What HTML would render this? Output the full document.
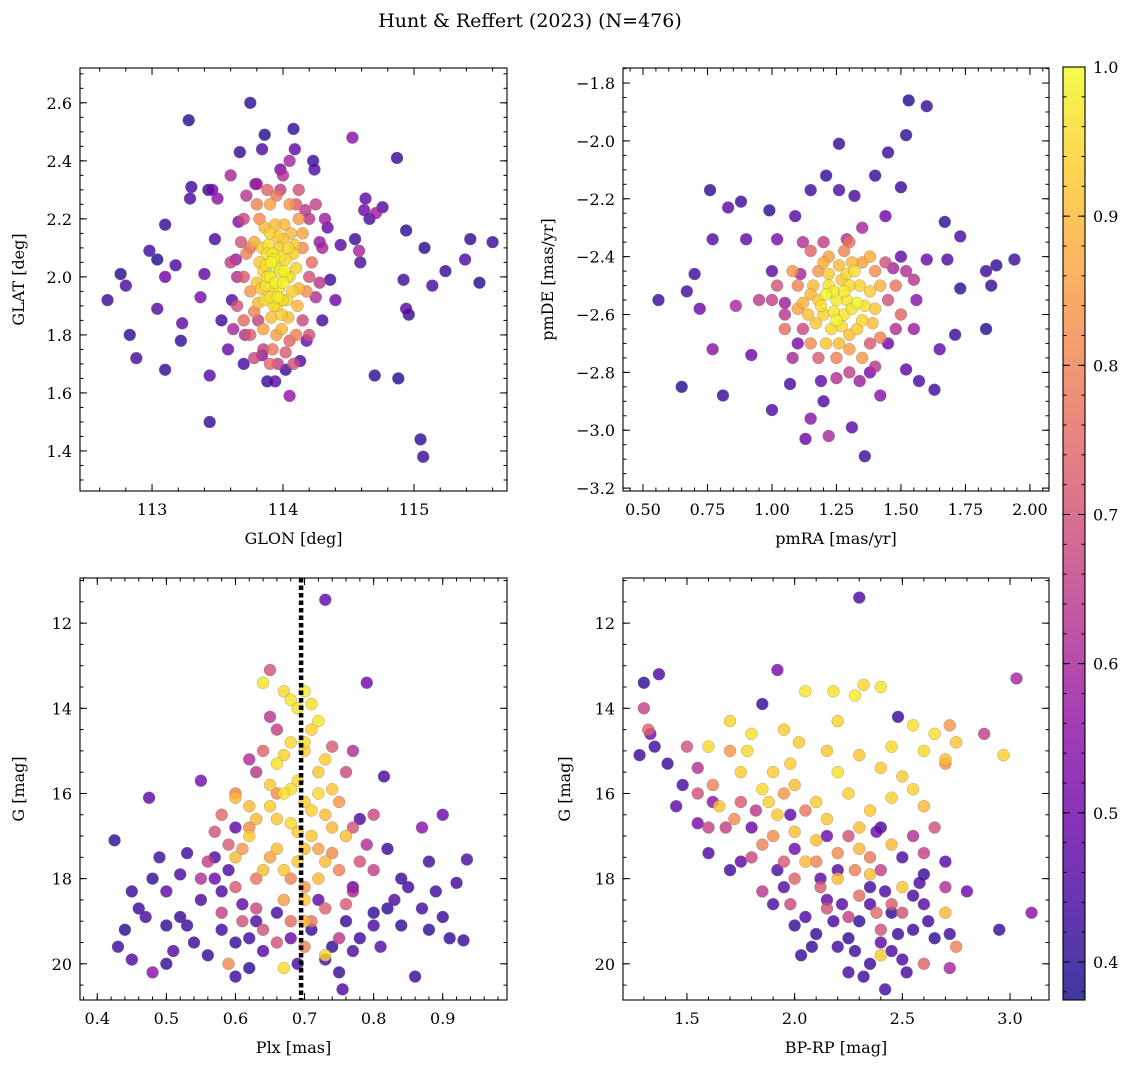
<!DOCTYPE html>
<html><head><meta charset="utf-8">
<style>
html,body{margin:0;padding:0;background:#fff;}
svg{display:block;font-family:"DejaVu Serif","Liberation Serif",serif;}
</style></head>
<body>
<svg id="fig" width="1136" height="1067" viewBox="0 0 1136 1067">
<text x="530" y="27" text-anchor="middle" font-size="19">Hunt &amp; Reffert (2023) (N=476)</text>
</svg>
<script>
// ---------- data (x, y, membership probability) ----------
const glonGlat = [
[112.66,1.92,0.42],[112.76,2.01,0.4],[112.8,1.97,0.45],[112.83,1.8,0.41],[112.88,1.72,0.44],[112.98,2.09,0.43],[113.04,2.06,0.4],[113.04,1.89,0.46],[113.1,2.18,0.41],[113.1,2.0,0.5],[113.1,1.68,0.42],[113.18,2.04,0.44],[113.22,1.78,0.41],[113.23,1.84,0.47],[113.28,2.54,0.4],[113.3,2.31,0.43],[113.29,2.27,0.45],[113.37,1.93,0.52],[113.4,2.01,0.48],[113.43,2.3,0.41],[113.44,1.66,0.46],[113.44,1.5,0.42],[113.46,2.3,0.5],[113.48,2.13,0.44],[113.5,2.27,0.55],[113.53,1.85,0.43],[113.58,1.75,0.49],[113.6,2.35,0.6],[113.61,1.92,0.45],[113.64,2.06,0.58],[113.66,2.19,0.53],[113.67,2.43,0.42],[113.71,1.8,0.62],[113.7,1.7,0.44],[113.75,2.6,0.41],[113.79,2.32,0.5],[113.81,1.85,0.66],[113.84,2.44,0.45],[113.86,2.49,0.4],[113.84,1.73,0.55],[113.88,1.64,0.42],[113.94,1.64,0.47],[113.98,2.37,0.52],[114.02,1.68,0.43],[114.05,1.59,0.56],[114.08,2.51,0.41],[114.09,2.44,0.48],[114.13,1.71,0.45],[114.17,2.23,0.64],[114.18,1.78,0.5],[114.23,2.4,0.42],[114.24,2.37,0.46],[114.28,2.12,0.57],[114.3,1.85,0.44],[114.34,2.17,0.49],[114.36,1.99,0.43],[114.4,1.92,0.5],[114.44,2.11,0.46],[114.53,2.48,0.55],[114.55,2.13,0.42],[114.58,2.09,0.6],[114.59,2.05,0.45],[114.62,2.23,0.5],[114.63,2.27,0.48],[114.66,2.2,0.44],[114.7,1.66,0.41],[114.71,2.22,0.58],[114.76,2.24,0.46],[114.87,2.41,0.42],[114.88,1.65,0.4],[114.92,1.99,0.43],[114.94,2.16,0.41],[114.94,1.89,0.47],[114.96,1.87,0.42],[115.05,1.44,0.41],[115.07,1.38,0.43],[115.08,2.1,0.4],[115.14,1.97,0.44],[115.24,2.02,0.42],[115.43,2.13,0.41],[115.39,2.06,0.45],[115.6,2.12,0.42],[115.5,1.98,0.4],
[113.75,2.1,0.78],[113.7,2.0,0.72],[114.15,2.1,0.82],[114.2,2.0,0.7],[113.78,1.88,0.8],[114.15,1.85,0.68],[113.95,1.8,0.85],[114.05,1.78,0.74],[113.85,1.75,0.66],[114.1,2.25,0.72],[113.9,2.25,0.86],[114.2,2.2,0.64],[113.7,2.2,0.68],[113.65,1.9,0.7],[114.25,1.93,0.62],[113.98,2.3,0.66],[114.08,1.7,0.7],[113.9,1.7,0.75],[113.75,1.8,0.72],[114.3,2.1,0.6],[113.6,2.05,0.66],[114.0,2.35,0.62],[113.8,2.32,0.6],[114.12,2.2,0.84],[113.82,2.2,0.82],
[113.9,2.0,0.98],[113.95,2.03,0.97],[114.0,1.98,0.99],[113.92,1.95,0.96],[114.02,2.06,0.95],[113.88,2.08,0.97],[113.97,2.1,0.93],[114.05,2.0,0.96],[113.85,2.02,0.94],[113.93,1.9,0.95],[114.0,2.13,0.92],[113.9,2.15,0.94],[114.08,2.08,0.93],[113.96,1.93,0.98],[114.03,1.92,0.95],[113.87,1.97,0.97],[113.82,2.05,0.92],[114.1,2.03,0.94],[113.94,2.18,0.91],[113.99,1.87,0.93],[113.91,2.05,0.99],[114.06,2.15,0.9],[113.8,1.98,0.92],[114.12,1.96,0.9],[113.98,2.02,0.99],[113.86,1.92,0.95],[114.04,1.86,0.91]
];
const glonGlatExtra = [
[113.93,2.06,0.98],[113.97,1.96,0.97],[113.89,2.11,0.96],[114.01,2.02,0.99],[113.94,1.98,0.98],[113.87,2.04,0.96],[114.04,2.1,0.95],[113.92,2.08,0.97],[113.98,2.07,0.96],[113.95,1.9,0.94],[113.84,2.1,0.93],[114.07,1.95,0.94],[113.9,1.93,0.96],[114.0,1.92,0.95],[113.88,2.0,0.97],[114.03,2.0,0.98],[113.96,2.14,0.93],[113.83,1.96,0.92],[114.09,2.11,0.92],[113.91,1.86,0.91],[114.01,2.18,0.9],[113.86,2.17,0.9],[113.99,1.82,0.89],[113.81,1.91,0.9],[114.11,1.9,0.89],[113.78,2.12,0.88],
[113.75,1.95,0.84],[113.72,2.08,0.8],[114.15,2.15,0.86],[114.18,1.95,0.82],[113.8,2.25,0.8],[114.05,2.25,0.84],[113.95,2.28,0.78],[114.1,1.8,0.8],[113.85,1.82,0.86],[113.7,1.85,0.75],[114.22,2.05,0.76],[113.68,2.12,0.7],[114.25,2.25,0.66],[113.92,1.75,0.78],[114.02,1.74,0.72],[113.78,1.72,0.68],[114.2,1.8,0.7],[113.65,2.0,0.62],[114.12,2.3,0.7],[113.88,2.3,0.74],[113.72,2.28,0.64],[114.28,1.98,0.64],[113.96,1.7,0.66],[114.05,2.4,0.6],[113.62,1.82,0.6],[114.32,2.2,0.58]
];
const pmraPmde = [
[0.56,-2.55,0.42],[0.65,-2.85,0.4],[0.67,-2.52,0.44],[0.7,-2.46,0.43],[0.72,-2.58,0.5],[0.76,-2.17,0.41],[0.77,-2.34,0.46],[0.77,-2.72,0.55],[0.81,-2.88,0.42],[0.83,-2.23,0.47],[0.86,-2.57,0.6],[0.88,-2.21,0.43],[0.9,-2.34,0.48],[0.92,-2.74,0.5],[0.95,-2.55,0.65],[0.99,-2.24,0.41],[1.0,-2.93,0.45],[1.02,-2.34,0.52],[1.05,-2.56,0.58],[1.07,-2.84,0.44],[1.09,-2.26,0.46],[1.11,-2.46,0.6],[1.13,-3.03,0.5],[1.15,-2.96,0.55],[1.15,-2.17,0.43],[1.19,-2.83,0.48],[1.21,-2.12,0.41],[1.22,-3.02,0.6],[1.26,-2.17,0.45],[1.26,-2.01,0.42],[1.29,-2.34,0.62],[1.31,-2.99,0.47],[1.32,-2.19,0.44],[1.34,-2.83,0.58],[1.36,-3.09,0.43],[1.38,-2.8,0.52],[1.4,-2.12,0.41],[1.42,-2.88,0.55],[1.44,-2.26,0.5],[1.45,-2.04,0.43],[1.47,-2.44,0.6],[1.5,-2.16,0.42],[1.52,-2.79,0.47],[1.52,-1.98,0.41],[1.53,-1.86,0.4],[1.56,-2.55,0.55],[1.57,-2.83,0.44],[1.6,-1.88,0.42],[1.6,-2.41,0.5],[1.63,-2.86,0.43],[1.65,-2.72,0.48],[1.67,-2.28,0.41],[1.68,-2.41,0.45],[1.71,-2.67,0.42],[1.73,-2.33,0.44],[1.73,-2.51,0.41],[1.83,-2.45,0.43],[1.83,-2.65,0.4],[1.85,-2.5,0.42],[1.87,-2.43,0.41],[1.94,-2.41,0.43],[1.2,-2.9,0.46],[1.1,-2.7,0.52],[1.45,-2.7,0.5],[1.0,-2.45,0.47],[1.5,-2.4,0.48],
[1.1,-2.5,0.8],[1.15,-2.38,0.74],[1.4,-2.45,0.82],[1.45,-2.55,0.7],[1.12,-2.65,0.68],[1.38,-2.7,0.72],[1.25,-2.75,0.8],[1.2,-2.35,0.66],[1.3,-2.35,0.78],[1.05,-2.6,0.64],[1.48,-2.65,0.62],[1.35,-2.42,0.86],[1.18,-2.45,0.84],[1.3,-2.8,0.66],[1.02,-2.5,0.7],[1.55,-2.48,0.64],
[1.25,-2.55,0.98],[1.22,-2.5,0.96],[1.28,-2.6,0.97],[1.3,-2.5,0.95],[1.2,-2.6,0.94],[1.33,-2.56,0.99],[1.18,-2.55,0.93],[1.27,-2.48,0.92],[1.35,-2.62,0.94],[1.23,-2.65,0.95],[1.3,-2.67,0.91],[1.16,-2.5,0.9],[1.38,-2.52,0.93],[1.26,-2.43,0.9],[1.21,-2.7,0.92],[1.32,-2.45,0.96],[1.14,-2.6,0.91],[1.4,-2.58,0.92],[1.25,-2.62,0.99],[1.29,-2.55,0.97]
];
const pmraPmdeExtra = [
[1.24,-2.52,0.98],[1.31,-2.58,0.97],[1.19,-2.57,0.96],[1.27,-2.64,0.95],[1.34,-2.5,0.94],[1.22,-2.46,0.93],[1.36,-2.57,0.96],[1.17,-2.63,0.92],[1.29,-2.46,0.95],[1.26,-2.7,0.91],[1.33,-2.65,0.93],[1.21,-2.53,0.99],[1.15,-2.53,0.9],[1.39,-2.63,0.9],[1.28,-2.52,0.98],[1.24,-2.59,0.97],[1.31,-2.42,0.9],[1.12,-2.56,0.89],[1.42,-2.5,0.89],[1.2,-2.42,0.88],
[1.08,-2.45,0.84],[1.15,-2.7,0.82],[1.42,-2.68,0.8],[1.48,-2.5,0.78],[1.35,-2.75,0.84],[1.22,-2.4,0.86],[1.38,-2.4,0.88],[1.05,-2.65,0.76],[1.5,-2.6,0.74],[1.18,-2.75,0.72],[1.3,-2.72,0.85],[1.1,-2.58,0.86],[1.44,-2.42,0.7],[1.28,-2.38,0.8],[1.0,-2.55,0.66],[1.52,-2.45,0.62],[1.12,-2.35,0.62],[1.4,-2.78,0.64],[1.25,-2.82,0.62],[1.08,-2.75,0.6],[1.55,-2.65,0.58],[1.35,-2.3,0.6]
];
const plxG = [
[0.425,17.1,0.41],[0.43,19.6,0.43],[0.44,19.2,0.4],[0.45,19.9,0.45],[0.46,18.7,0.42],[0.47,18.9,0.44],[0.48,18.0,0.41],[0.475,16.1,0.47],[0.49,17.5,0.43],[0.5,19.1,0.41],[0.5,18.3,0.48],[0.48,20.2,0.55],[0.52,18.9,0.42],[0.51,19.7,0.46],[0.53,17.4,0.43],[0.55,15.7,0.52],[0.55,18.5,0.44],[0.56,19.8,0.41],[0.57,18.0,0.5],[0.58,19.2,0.43],[0.59,17.8,0.45],[0.6,19.5,0.42],[0.61,18.6,0.48],[0.62,20.1,0.41],[0.63,19.0,0.44],[0.64,19.7,0.46],[0.66,18.8,0.43],[0.68,19.4,0.5],[0.71,19.2,0.42],[0.72,18.5,0.47],[0.73,19.9,0.44],[0.74,19.6,0.41],[0.755,20.6,0.45],[0.76,19.0,0.42],[0.77,18.2,0.48],[0.78,19.4,0.43],[0.79,13.4,0.5],[0.8,18.8,0.41],[0.81,19.6,0.46],[0.815,15.6,0.44],[0.82,17.3,0.42],[0.83,18.5,0.45],[0.84,19.1,0.41],[0.85,18.2,0.43],[0.86,20.3,0.42],[0.87,18.7,0.44],[0.87,16.8,0.55],[0.88,19.2,0.41],[0.89,18.3,0.43],[0.9,18.9,0.42],[0.9,16.5,0.5],[0.91,19.4,0.41],[0.93,19.45,0.42],[0.935,17.55,0.44],[0.92,18.1,0.43],[0.73,11.45,0.48],[0.57,17.5,0.45],[0.53,19.1,0.43],[0.6,16.8,0.47],[0.78,16.6,0.45],
[0.65,13.1,0.7],[0.66,14.5,0.66],[0.64,15.0,0.74],[0.63,15.5,0.64],[0.74,14.9,0.72],[0.76,15.5,0.68],[0.6,16.0,0.8],[0.58,16.5,0.75],[0.61,17.3,0.84],[0.77,16.8,0.7],[0.79,17.2,0.62],[0.75,17.8,0.8],[0.56,17.6,0.66],[0.6,18.2,0.72],[0.67,18.5,0.85],[0.73,18.7,0.74],[0.77,18.3,0.6],[0.64,19.2,0.7],[0.7,19.6,0.8],[0.59,20.0,0.82],[0.8,17.8,0.66],[0.57,16.9,0.7],[0.72,17.3,0.86],[0.66,16.0,0.82],[0.68,19.0,0.76],[0.63,18.7,0.68],
[0.64,13.4,0.97],[0.67,13.6,0.95],[0.7,13.6,0.98],[0.69,14.0,0.96],[0.71,14.5,0.94],[0.72,14.3,0.97],[0.68,14.8,0.95],[0.7,15.0,0.93],[0.66,15.3,0.96],[0.72,15.5,0.92],[0.69,15.7,0.95],[0.7,16.2,0.94],[0.67,16.0,0.97],[0.73,16.5,0.91],[0.65,16.3,0.93],[0.68,16.7,0.95],[0.71,17.0,0.92],[0.63,16.6,0.9],[0.74,15.9,0.92],[0.66,17.3,0.91],[0.69,17.6,0.93],[0.72,18.0,0.9],[0.6,16.1,0.9],[0.64,17.8,0.91],[0.7,18.5,0.92],[0.67,20.1,0.96],[0.73,19.8,0.95],[0.6,17.5,0.9],[0.76,17.0,0.91],[0.62,17.0,0.93]
];
const plxGExtra = [
[0.68,13.8,0.97],[0.71,13.9,0.96],[0.7,14.8,0.95],[0.67,15.1,0.94],[0.73,15.2,0.93],[0.68,15.9,0.96],[0.71,16.4,0.94],[0.69,16.9,0.93],[0.66,16.6,0.92],[0.74,16.8,0.9],[0.7,17.3,0.91],[0.67,17.8,0.92],[0.73,17.6,0.9],[0.65,15.8,0.93],[0.72,16.0,0.95],[0.7,19.0,0.9],[0.62,16.3,0.9],
[0.62,16.8,0.82],[0.75,16.2,0.84],[0.65,17.5,0.86],[0.74,17.4,0.82],[0.68,18.0,0.8],[0.7,18.2,0.84],[0.63,18.0,0.78],[0.76,18.6,0.72],[0.61,19.0,0.7],[0.71,19.0,0.78],[0.58,18.8,0.66],[0.8,16.5,0.68],[0.55,18.0,0.62],[0.65,14.2,0.64],[0.77,15.0,0.62],[0.62,15.2,0.62],[0.75,19.4,0.64],[0.66,19.5,0.7],[0.59,17.2,0.72],[0.78,17.6,0.7],
[0.45,18.3,0.42],[0.52,17.9,0.44],[0.54,19.5,0.42],[0.58,18.3,0.45],[0.62,19.4,0.43],[0.69,20.0,0.44],[0.75,20.2,0.42],[0.8,19.1,0.44],[0.84,18.0,0.42],[0.88,17.6,0.43],[0.82,18.7,0.41],[0.77,19.7,0.45],[0.6,20.3,0.43],[0.5,20.0,0.42]
];
const colorG = [
[1.28,15.1,0.42],[1.3,13.4,0.41],[1.37,13.2,0.45],[1.35,14.9,0.43],[1.33,14.6,0.5],[1.41,15.3,0.42],[1.45,16.3,0.47],[1.48,15.8,0.44],[1.55,16.7,0.52],[1.6,17.4,0.45],[1.62,16.2,0.55],[1.7,17.8,0.43],[1.75,17.6,0.48],[1.8,16.8,0.5],[1.85,13.9,0.42],[1.92,13.1,0.52],[1.9,18.6,0.44],[1.95,18.2,0.46],[2.0,17.3,0.5],[2.03,19.8,0.42],[2.05,18.9,0.45],[2.1,19.3,0.41],[2.15,18.5,0.48],[2.2,19.6,0.43],[2.25,20.2,0.44],[2.3,19.0,0.41],[2.3,11.4,0.45],[2.35,20.0,0.42],[2.4,19.5,0.47],[2.42,20.6,0.43],[2.45,18.8,0.41],[2.5,19.9,0.44],[2.48,14.2,0.42],[2.55,19.2,0.43],[2.6,18.6,0.46],[2.65,19.4,0.41],[2.72,19.3,0.43],[2.8,18.3,0.5],[2.95,19.2,0.42],[3.1,18.8,0.55],[3.03,13.3,0.6],[2.2,17.8,0.46],[2.35,18.2,0.43],[2.15,17.0,0.5],[2.5,17.5,0.45],[2.6,17.9,0.42],[1.98,16.5,0.48],[2.4,16.8,0.44],[2.7,17.6,0.46],[2.25,19.4,0.41],[2.45,19.7,0.45],[2.38,16.9,0.5],[2.0,19.1,0.42],[2.55,18.4,0.44],
[1.3,14.0,0.66],[1.32,14.5,0.74],[1.5,14.9,0.7],[1.55,15.4,0.62],[1.62,15.8,0.8],[1.68,16.8,0.66],[1.75,16.2,0.72],[1.8,17.5,0.68],[1.9,17.0,0.82],[1.85,18.3,0.64],[2.0,18.0,0.74],[2.1,17.6,0.8],[2.25,17.0,0.7],[2.3,18.4,0.76],[2.4,17.8,0.66],[2.45,18.6,0.72],[2.55,17.0,0.62],[2.65,16.8,0.7],[2.72,14.4,0.84],[2.88,14.6,0.66],[2.7,15.3,0.82],[2.75,19.6,0.8],[2.72,20.1,0.6],[2.6,20.0,0.74],[1.7,15.0,0.84],[2.15,18.7,0.7],[2.35,17.5,0.78],[1.95,17.6,0.72],
[1.6,14.9,0.95],[1.7,14.3,0.94],[1.8,14.6,0.96],[1.9,15.5,0.93],[2.05,13.6,0.97],[2.18,13.6,0.96],[2.28,13.7,0.98],[2.32,13.45,0.95],[2.4,13.5,0.97],[2.2,14.3,0.94],[2.3,15.1,0.92],[2.45,14.9,0.95],[2.55,14.4,0.96],[2.5,15.6,0.93],[2.7,15.2,0.91],[2.75,14.8,0.92],[2.97,15.1,0.94],[1.65,16.3,0.92],[1.75,15.5,0.93],[1.85,15.9,0.95],[2.0,15.8,0.91],[2.1,16.2,0.93],[2.2,15.5,0.96],[2.35,16.4,0.92],[2.45,16.1,0.94],[2.6,16.3,0.9],[2.1,17.1,0.91],[2.3,17.3,0.9],[2.5,18.2,0.92],[2.7,18.8,0.9],[2.4,19.8,0.93],[2.2,18.0,0.9],[2.0,16.9,0.91],[1.95,14.5,0.93],[2.6,15.0,0.95]
];
const colorGExtra = [
[1.78,15.0,0.95],[1.88,16.2,0.94],[1.98,15.3,0.93],[2.15,15.0,0.92],[2.25,16.0,0.94],[2.4,15.4,0.93],[2.3,16.8,0.91],[2.15,16.6,0.92],[2.05,17.6,0.9],[2.35,17.9,0.91],[2.45,17.2,0.9],[1.92,16.5,0.92],[2.55,15.9,0.94],[2.65,14.6,0.96],[2.02,14.8,0.93],
[1.72,16.6,0.82],[1.85,17.2,0.8],[1.95,16.0,0.84],[2.05,16.4,0.78],[2.2,17.4,0.82],[2.28,17.8,0.8],[2.38,18.8,0.76],[2.5,18.8,0.7],[2.12,18.2,0.72],[1.98,18.6,0.68],[2.25,18.9,0.66],[2.4,19.2,0.7],[1.6,16.8,0.66],[1.55,16.0,0.7],[2.6,17.4,0.66],[2.7,18.2,0.62],[1.82,16.4,0.64],
[2.18,19.0,0.44],[2.28,19.7,0.43],[2.35,18.6,0.45],[2.48,19.3,0.42],[2.52,20.2,0.44],[2.62,19.0,0.43],[2.08,19.6,0.42],[2.12,18.0,0.46],[1.92,17.8,0.45],[2.42,18.3,0.44],[2.32,20.3,0.43],[2.58,18.1,0.45],[2.22,18.6,0.46]
];
const plxRef = 0.695;
const cbTicks = [0.4,0.5,0.6,0.7,0.8,0.9,1.0];

const NS='http://www.w3.org/2000/svg';
const svg=document.getElementById('fig');
function mk(tag,attrs,parent){const e=document.createElementNS(NS,tag);for(const k in attrs)e.setAttribute(k,attrs[k]);(parent||svg).appendChild(e);return e;}
const stops=[[0,'#0d0887'],[0.1,'#41049d'],[0.2,'#6a00a8'],[0.3,'#8f0da4'],[0.4,'#b12a90'],[0.5,'#cc4778'],[0.6,'#e16462'],[0.7,'#f2844b'],[0.8,'#fca636'],[0.9,'#fcce25'],[1,'#f0f921']];
function hex(h){return [1,3,5].map(i=>parseInt(h.substr(i,2),16));}
const CMIN=0.3745,CMAX=1.0;
function plasma(v){let t=(v-CMIN)/(CMAX-CMIN);t=Math.max(0,Math.min(1,t));for(let i=1;i<stops.length;i++){if(t<=stops[i][0]){const a=stops[i-1],b=stops[i];const f=(t-a[0])/(b[0]-a[0]);const A=hex(a[1]),B=hex(b[1]);return 'rgb('+A.map((x,j)=>Math.round(x+(B[j]-x)*f)).join(',')+')';}}return stops[10][1];}
function fmt(v,d){return v.toFixed(d).replace('-','\u2212');}

function panel(cfg){
  const {name,L,T,R,B,xmin,xmax,ymin,ymax,xt,xd,xminor,yt,yd,yminor,xlabel,ylabel,data,inv}=cfg;
  const g=mk('g',{},svg);
  
  
  const sx=v=>L+(v-xmin)/(xmax-xmin)*(R-L);
  const sy=inv?(v=>T+(v-ymin)/(ymax-ymin)*(B-T)):(v=>B-(v-ymin)/(ymax-ymin)*(B-T));
  const clip='c'+name; const cp=mk('clipPath',{id:clip},g); mk('rect',{x:L,y:T,width:R-L,height:B-T},cp);
  const pts=mk('g',{'clip-path':'url(#'+clip+')'},g);
  
  
  [...data].sort((a,b)=>a[2]-b[2]).forEach(p=>{
    const c=mk('circle',{cx:sx(p[0]),cy:sy(p[1]),r:6,fill:plasma(p[2]),'fill-opacity':0.8,stroke:'#777','stroke-width':0.3},pts);
    
    
  });
  if(cfg.vline!==undefined){const l=mk('line',{x1:sx(cfg.vline),x2:sx(cfg.vline),y1:T,y2:B,stroke:'#000','stroke-width':4.5,'stroke-dasharray':'4.5,3'},pts);
    
    }
  mk('rect',{x:L,y:T,width:R-L,height:B-T,fill:'none',stroke:'#000','stroke-width':1.1},g);
  const tk=mk('g',{stroke:'#000','stroke-width':1},g);
  xt.forEach(v=>{const x=sx(v);mk('line',{x1:x,x2:x,y1:B,y2:B-7},tk);mk('line',{x1:x,x2:x,y1:T,y2:T+7},tk);
    const t=mk('text',{x:x,y:B+24,'text-anchor':'middle','font-size':16},g);t.textContent=fmt(v,xd);
    });
  for(let v=xminor[0];v<=xmax+1e-9;v+=xminor[1]){if(v<xmin)continue;const x=sx(v);mk('line',{x1:x,x2:x,y1:B,y2:B-3.5},tk);mk('line',{x1:x,x2:x,y1:T,y2:T+3.5},tk);}
  yt.forEach(v=>{const y=sy(v);mk('line',{x1:L,x2:L+7,y1:y,y2:y},tk);mk('line',{x1:R,x2:R-7,y1:y,y2:y},tk);
    const t=mk('text',{x:L-8,y:y+6,'text-anchor':'end','font-size':16},g);t.textContent=fmt(v,yd);
    });
  const lo=Math.min(ymin,ymax),hi=Math.max(ymin,ymax);
  for(let v=yminor[0];v<=hi+1e-9;v+=yminor[1]){if(v<lo)continue;const y=sy(v);mk('line',{x1:L,x2:L+3.5,y1:y,y2:y},tk);mk('line',{x1:R,x2:R-3.5,y1:y,y2:y},tk);}
  const xl=mk('text',{x:(L+R)/2,y:B+53,'text-anchor':'middle','font-size':16},g);xl.textContent=xlabel;
  
  const yx=cfg.ylx;const yl=mk('text',{x:yx,y:(T+B)/2,'text-anchor':'middle','font-size':16,transform:'rotate(-90 '+yx+' '+(T+B)/2+')'},g);yl.textContent=ylabel;
  
}

panel({name:'glon-glat-panel',L:80,T:68,R:507,B:491,xmin:112.45,xmax:115.71,ymin:1.262,ymax:2.72,xt:[113,114,115],xd:0,xminor:[112.6,0.2],yt:[1.4,1.6,1.8,2.0,2.2,2.4,2.6],yd:1,yminor:[1.3,0.05],xlabel:'GLON [deg]',ylabel:'GLAT [deg]',data:glonGlat.concat(glonGlatExtra),ylx:24});
panel({name:'proper-motion-panel',L:623,T:68,R:1049,B:491,xmin:0.4225,xmax:2.074,ymin:-3.21,ymax:-1.748,xt:[0.5,0.75,1.0,1.25,1.5,1.75,2.0],xd:2,xminor:[0.45,0.05],yt:[-3.2,-3.0,-2.8,-2.6,-2.4,-2.2,-2.0,-1.8],yd:1,yminor:[-3.2,0.05],xlabel:'pmRA [mas/yr]',ylabel:'pmDE [mas/yr]',data:pmraPmde.concat(pmraPmdeExtra),ylx:553});
panel({name:'parallax-magnitude-panel',L:80,T:578,R:507,B:1000,xmin:0.375,xmax:0.993,ymin:10.94,ymax:20.85,inv:true,xt:[0.4,0.5,0.6,0.7,0.8,0.9],xd:1,xminor:[0.38,0.02],yt:[12,14,16,18,20],yd:0,yminor:[11,0.5],xlabel:'Plx [mas]',ylabel:'G [mag]',data:plxG.concat(plxGExtra),vline:plxRef,ylx:24});
panel({name:'color-magnitude-panel',L:623,T:578,R:1049,B:1000,xmin:1.203,xmax:3.181,ymin:10.94,ymax:20.85,inv:true,xt:[1.5,2.0,2.5,3.0],xd:1,xminor:[1.3,0.1],yt:[12,14,16,18,20],yd:0,yminor:[11,0.5],xlabel:'BP-RP [mag]',ylabel:'G [mag]',data:colorG.concat(colorGExtra),ylx:570});

// colorbar
(function(){
  const L=1063,R=1085,T=67,B=1000;
  const g=mk('g',{},svg);
  
  
  const defs=mk('defs',{},g);const lg=mk('linearGradient',{id:'cbg',x1:0,y1:1,x2:0,y2:0},defs);
  stops.forEach(s=>{const c=hex(s[1]);mk('stop',{offset:s[0],'stop-color':'rgb('+c.map(x=>Math.round(x*0.8+255*0.2)).join(',')+')'},lg);});
  mk('rect',{x:L,y:T,width:R-L,height:B-T,fill:'url(#cbg)',stroke:'#000','stroke-width':1.1},g);
  const sy=v=>B-(v-CMIN)/(CMAX-CMIN)*(B-T);
  cbTicks.forEach(v=>{const y=sy(v);mk('line',{x1:R,x2:R-7,y1:y,y2:y,stroke:'#000'},g);mk('line',{x1:L,x2:L+7,y1:y,y2:y,stroke:'#000'},g);
    const t=mk('text',{x:R+8,y:y+6,'font-size':16},g);t.textContent=v.toFixed(1);
    });
  for(let v=0.38;v<=1.0001;v+=0.02){const y=sy(v);mk('line',{x1:R,x2:R-3.5,y1:y,y2:y,stroke:'#000'},g);mk('line',{x1:L,x2:L+3.5,y1:y,y2:y,stroke:'#000'},g);}
})();
</script>
</body></html>
